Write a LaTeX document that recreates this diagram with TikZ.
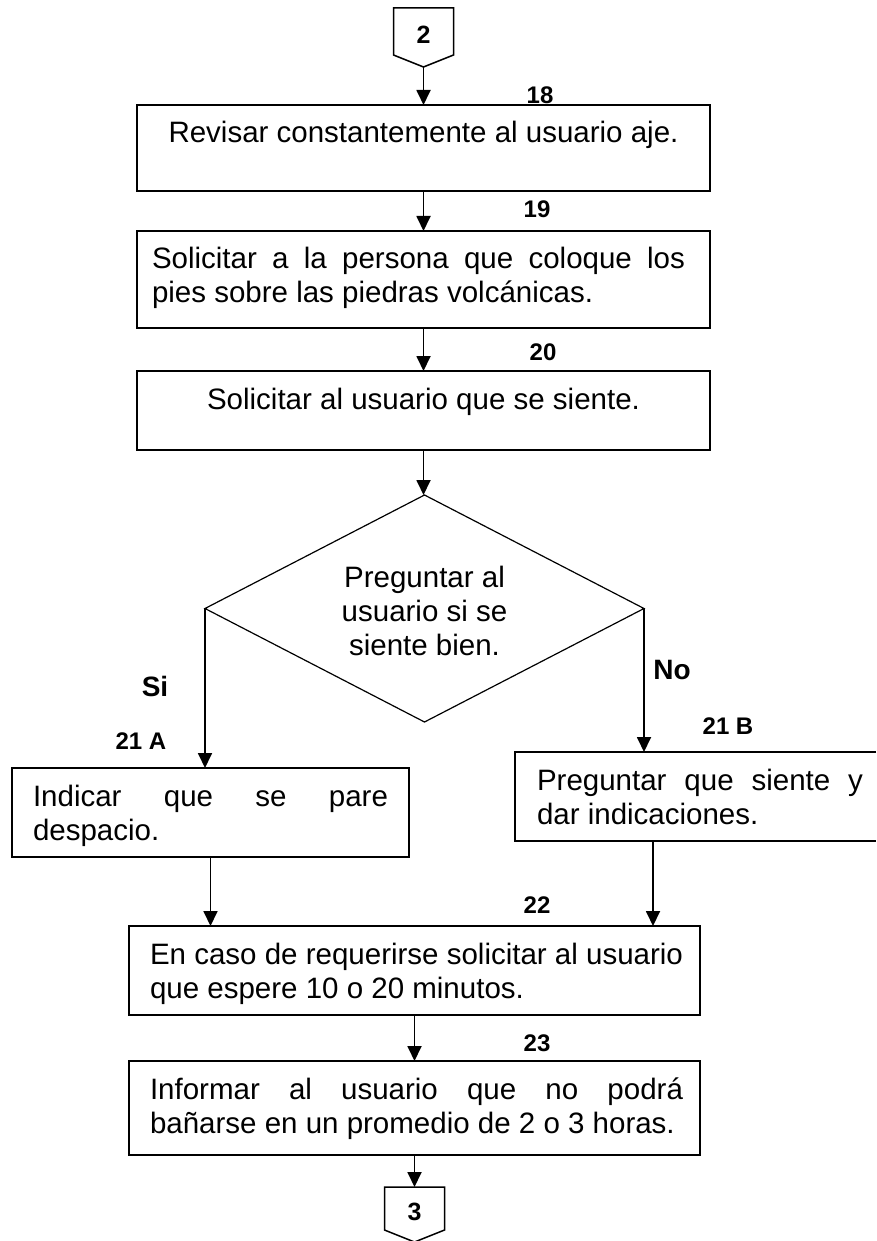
\documentclass[tikz,border=0pt]{standalone}
\usepackage{fontspec}
\setmainfont{Liberation Sans}
\usetikzlibrary{shapes.geometric,arrows.meta,calc}
\newcommand{\jtwo}[3]{\parbox[t]{#1}{\fontsize{29.5}{34}\selectfont\makebox[#1][s]{#2}\newline\mbox{#3}}}
\begin{document}
\begin{tikzpicture}[x=1pt,y=-1pt,
  box/.style={draw, line width=1.5pt, inner sep=0pt, outer sep=0pt},
  txt/.style={font=\fontsize{29.5}{34}\selectfont, inner sep=0pt, outer sep=0pt},
  num/.style={font=\fontsize{24}{28}\selectfont\bfseries, inner sep=0pt},
  yn/.style={font=\fontsize{28}{32}\selectfont\bfseries, inner sep=0pt},
  conn/.style={draw, line width=1.5pt},
  arr/.style={line width=1.8pt, -{Triangle[length=15pt,width=14pt]}}
]
\useasboundingbox (0,0) rectangle (876,1241);

% off-page connector 2
\draw[conn] (393.5,8) -- (453.5,8) -- (453.5,55) -- (423.5,67) -- (393.5,55) -- cycle;
\node[num, font=\fontsize{25}{28}\selectfont\bfseries] (c2) at (423.5,35) {2};
\coordinate (c2tip) at (423.5,67);

% boxes
\node[box, minimum width=573pt, minimum height=86pt] (b18) at (423.5,148) {};
\node[txt, anchor=base] (t18) at (423.5,143) {Revisar constantemente al usuario aje.};
\node[num] (n18) at (540,95) {18};

\node[box, minimum width=573pt, minimum height=97pt] (b19) at (423.5,279.5) {};
\node[txt, anchor=base west] (t19) at (152,268) {\jtwo{533pt}{Solicitar a la persona que coloque los}{pies sobre las piedras volcánicas.}};
\node[num] (n19) at (537,209) {19};

\node[box, minimum width=573pt, minimum height=79pt] (b20) at (423.5,410.5) {};
\node[txt, anchor=base] (t20) at (423.5,409) {Solicitar al usuario que se siente.};
\node[num] (n20) at (543,352) {20};

% decision
\node[diamond, draw, line width=1.2pt, inner sep=0pt, outer sep=0pt, minimum width=439pt, minimum height=227pt] (d) at (424.5,608.5) {};
\node[txt, align=center] (td) at (424.5,611) {Preguntar al\\usuario si se\\siente bien.};
\node[yn] (si) at (155,686) {Si};
\node[yn] (no) at (672,670) {No};

% 21 A
\node[box, minimum width=397pt, minimum height=89pt] (b21a) at (210.5,812.5) {};
\node[txt, anchor=base west] (t21a) at (33,806) {\jtwo{355pt}{Indicar que se pare}{despacio.}};
\node[num] (n21a) at (141,741) {21 A};

% 21 B (runs off the right edge)
\node[inner sep=0pt, outer sep=0pt, minimum width=361pt, minimum height=89pt] (b21b) at (695.5,796.5) {};
\draw[line width=1.5pt] (b21b.north east) -- (b21b.north west) -- (b21b.south west) -- (b21b.south east);
\node[txt, anchor=base west] (t21b) at (537,790) {\jtwo{326pt}{Preguntar que siente y}{dar indicaciones.}};
\node[num] (n21b) at (728,726) {21 B};
\coordinate (r21b) at ([xshift=138pt]b21b.south west);

% 22
\node[box, minimum width=571pt, minimum height=89pt] (b22) at (414.5,970.5) {};
\node[txt, anchor=base west] (t22) at (150,964) {\jtwo{533pt}{En caso de requerirse solicitar al usuario}{que espere 10 o 20 minutos.}};
\node[num] (n22) at (537,905) {22};

% 23
\node[box, minimum width=571pt, minimum height=94pt] (b23) at (414.5,1108) {};
\node[txt, anchor=base west] (t23) at (150,1099) {\jtwo{533pt}{Informar al usuario que no podrá}{bañarse en un promedio de 2 o 3 horas.}};
\node[num] (n23) at (537,1043) {23};

% off-page connector 3
\draw[conn] (384.5,1187) -- (444.5,1187) -- (444.5,1230) -- (414.5,1242) -- (384.5,1230) -- cycle;
\node[num, font=\fontsize{25}{28}\selectfont\bfseries] (c3) at (414.5,1212) {3};
\coordinate (c3top) at (414.5,1187);

% connectors
\draw[arr] (c2tip) -- (b18.north);
\draw[arr] (b18.south) -- (b19.north);
\draw[arr] (b19.south) -- (b20.north);
\draw[arr] (b20.south) -- (b20.south |- d.north);
\draw[arr] (d.west) -- (d.west |- b21a.north);
\draw[arr] (d.east) -- (d.east |- b21b.north);
\draw[arr] (b21a.south) -- (b21a.south |- b22.north);
\draw[arr] (r21b) -- (r21b |- b22.north);
\draw[arr] (b22.south) -- (b23.north);
\draw[arr] (b23.south) -- (c3top);
\end{tikzpicture}
\end{document}
